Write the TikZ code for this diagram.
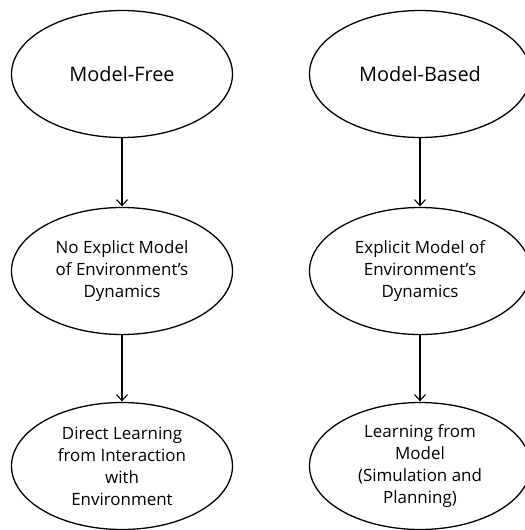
\documentclass[tikz,border=0pt]{standalone}
\usepackage{fontspec}
\setmainfont{Open Sans}
\usetikzlibrary{shapes.geometric}
\usetikzlibrary{arrows.meta}
\usetikzlibrary{positioning}
\tikzset{
semithick, % all lines semithick
>={Straight Barb[length=6bp,width=11bp]}, % open arrow tips
my ellipse/.style={draw,ellipse,line width=1.3bp,minimum width=221bp,minimum height=127bp,inner sep=0pt,align=center},
big text/.style={font=\fontsize{20}{24}\selectfont},
small text/.style={font=\fontsize{17}{22}\selectfont},
my arrow/.style={->,line width=1.1bp,shorten >=0.5bp},
}

\begin{document}
\begin{tikzpicture}[node distance=197bp and 298bp,on grid]
\clip (0,0) rectangle (525bp,-530bp);
\node[my ellipse,big text] (free) at (122bp,-74bp) {Model-Free};
\node[my ellipse,big text,right=of free] (based) {Model-Based};
\node[my ellipse,small text,below=of free] (nomodel) {No Explict Model\\of Environment’s\\Dynamics};
\node[my ellipse,small text,below=of based] (model) {Explicit Model of\\Environment’s\\Dynamics};
\node[my ellipse,small text,below=195bp of nomodel] (direct) {Direct Learning\\from Interaction\\with\\Environment};
\node[my ellipse,small text,below=195bp of model] (learn) {Learning from\\Model\\(Simulation and\\Planning)};
\draw[my arrow] (free) -- (nomodel);
\draw[my arrow] (nomodel) -- (direct);
\draw[my arrow] (based) -- (model);
\draw[my arrow] (model) -- (learn);
\end{tikzpicture}
\end{document}
